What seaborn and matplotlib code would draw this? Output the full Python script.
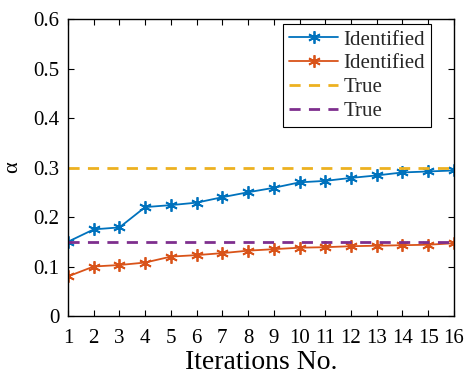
import matplotlib
matplotlib.use("Agg")
import matplotlib.pyplot as plt
import seaborn as sns
import pandas as pd

iterations = list(range(1, 17))
identified_1 = [0.150, 0.175, 0.179, 0.220, 0.224, 0.229, 0.240, 0.250, 0.259, 0.270,
                0.273, 0.279, 0.284, 0.290, 0.292, 0.294]
identified_2 = [0.080, 0.100, 0.103, 0.108, 0.120, 0.123, 0.127, 0.132, 0.135, 0.138,
                0.139, 0.141, 0.142, 0.143, 0.144, 0.147]
true_1 = [0.3] * 16
true_2 = [0.15] * 16
legend_labels = ["Identified", "Identified", "True", "True"]
y_ticks = [0, 0.1, 0.2, 0.3, 0.4, 0.5, 0.6]
y_tick_labels = ["0", "0.1", "0.2", "0.3", "0.4", "0.5", "0.6"]

sns.set_theme(style="white")
plt.rcParams['font.family'] = ['Liberation Serif', 'DejaVu Serif']

fig = plt.figure(figsize=(4.67, 3.77), dpi=100)
ax = fig.add_axes([0.1456, 0.1618, 0.972 - 0.1456, 0.9496 - 0.1618])

df1 = pd.DataFrame({"x": iterations, "y": identified_1})
df2 = pd.DataFrame({"x": iterations, "y": identified_2})
df3 = pd.DataFrame({"x": iterations, "y": true_1})
df4 = pd.DataFrame({"x": iterations, "y": true_2})

sns.lineplot(data=df1, x="x", y="y", ax=ax, color="#0072BD", marker=(6, 2, 0),
             markersize=9, markeredgewidth=1.3, markeredgecolor="#0072BD",
             linewidth=1.3, label=legend_labels[0])
sns.lineplot(data=df2, x="x", y="y", ax=ax, color="#D95319", marker=(6, 2, 0),
             markersize=9, markeredgewidth=1.3, markeredgecolor="#D95319",
             linewidth=1.3, label=legend_labels[1])
sns.lineplot(data=df3, x="x", y="y", ax=ax, color="#EDB120", linestyle=(0, (4, 3)),
             linewidth=2, label=legend_labels[2])
sns.lineplot(data=df4, x="x", y="y", ax=ax, color="#7E2F8E", linestyle=(0, (4, 3)),
             linewidth=2, label=legend_labels[3])

ax.set_xlim(1, 16)
ax.set_ylim(0, 0.6)
ax.set_xticks(iterations)
ax.set_yticks(y_ticks)
ax.set_yticklabels(y_tick_labels)
ax.tick_params(direction="in", bottom=True, left=True, top=True, right=True,
               length=4.5, width=0.8, labelsize=15, colors="black")
ax.tick_params(axis="x", pad=9)
ax.tick_params(axis="y", pad=6)
for s in ax.spines.values():
    s.set_color("black")
    s.set_linewidth(1)
ax.set_xlabel("Iterations No.", fontsize=20, color="black", labelpad=2)
ax.set_ylabel("α", fontsize=16, color="black", labelpad=8)

leg = ax.legend(loc="upper right", bbox_to_anchor=(0.9415, 0.984), borderaxespad=0,
                fontsize=15, frameon=True, fancybox=False,
                edgecolor="black", framealpha=1, borderpad=0.3, labelspacing=0.2,
                handlelength=2.35, handletextpad=0.25)
leg.get_frame().set_linewidth(0.8)

fig.savefig("out.png", dpi=100)
